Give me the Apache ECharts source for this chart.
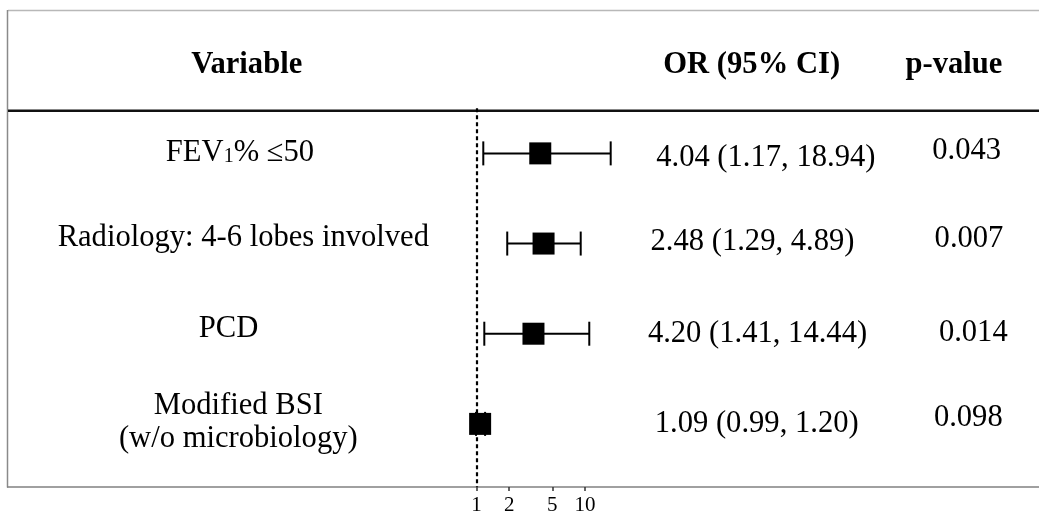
<!DOCTYPE html>
<html><head><meta charset="utf-8">
<script src="https://cdn.jsdelivr.net/npm/echarts@6/dist/echarts.min.js"></script>
<style>html,body{margin:0;padding:0;background:#fff}#c{width:1039px;height:512px}</style>
</head><body><div id="c"></div><script>
// ---- data ----
const variables = ['FEV1% ≤50', 'Radiology: 4-6 lobes involved', 'PCD', 'Modified BSI\n(w/o microbiology)'];
const oddsRatio = [3.87, 4.15, 3.35, 1.08];
const ciLower = [1.155, 1.92, 1.18, 0.99];
const ciUpper = [17.25, 9.13, 10.95, 1.20];
const orText = ['4.04 (1.17, 18.94)', '2.48 (1.29, 4.89)', '4.20 (1.41, 14.44)', '1.09 (0.99, 1.20)'];
const pValues = ['0.043', '0.007', '0.014', '0.098'];
const tickValues = [1, 2, 5, 10];
const headers = ['Variable', 'OR (95% CI)', 'p-value'];

// ---- layout ----
const FONT = '"Liberation Serif", "Times New Roman", serif';
const FS = 30.6;
const headerX = [246.7, 751.7, 954];
const headerY = 64.6;
const labelX = [240, 243.3, 228.5, 238.3];
const labelY = [153.5, 237.5, 329.2, 422.5];
const orX = [765.8, 752.5, 757.5, 756.7];
const orY = [157.5, 241.8, 334.1, 424.1];
const pX = [966.7, 969, 973.3, 968.3];
const pY = [150.8, 239.1, 332.5, 417.5];

const chart = echarts.init(document.getElementById('c'), null, {renderer: 'canvas'});

const graphic = [];
// frame
graphic.push({type: 'line', shape: {x1: 8, y1: 10.5, x2: 1039, y2: 10.5}, style: {stroke: '#b8b8b8', lineWidth: 1.5}});
graphic.push({type: 'line', shape: {x1: 7.5, y1: 10, x2: 7.5, y2: 487.5}, style: {stroke: '#8a8a8a', lineWidth: 1.5}});
graphic.push({type: 'line', shape: {x1: 7, y1: 487, x2: 1039, y2: 487}, style: {stroke: '#808080', lineWidth: 1.5}});
// header rule
graphic.push({type: 'line', shape: {x1: 8, y1: 110.8, x2: 1039, y2: 110.8}, style: {stroke: '#111', lineWidth: 2.5}});
// headers
headers.forEach((h, i) => {
  graphic.push({type: 'text', style: {text: h, x: headerX[i], y: headerY, fill: '#000',
    fontSize: FS, fontFamily: FONT, fontWeight: 'bold', align: 'center', verticalAlign: 'middle'}});
});
// variable labels
variables.forEach((v, i) => {
  if (v.indexOf('FEV1') === 0) {
    graphic.push({type: 'text', style: {
      text: '{n|FEV}{s|1}{n|' + v.slice(4) + '}', x: labelX[i], y: labelY[i], fill: '#000',
      align: 'center', verticalAlign: 'middle',
      rich: {
        n: {fontSize: FS, fontFamily: FONT, fill: '#000', verticalAlign: 'bottom', lineHeight: FS},
        s: {fontSize: 20, fontFamily: FONT, fill: '#000', verticalAlign: 'bottom', lineHeight: 20, padding: [0, 0, 2, 0]}
      }}});
  } else {
    graphic.push({type: 'text', style: {text: v, x: labelX[i], y: labelY[i], fill: '#000',
      fontSize: FS, fontFamily: FONT, align: 'center', verticalAlign: 'middle', lineHeight: 33.3}});
  }
});
orText.forEach((t, i) => {
  graphic.push({type: 'text', style: {text: t, x: orX[i], y: orY[i], fill: '#000',
    fontSize: FS, fontFamily: FONT, align: 'center', verticalAlign: 'middle'}});
});
pValues.forEach((t, i) => {
  graphic.push({type: 'text', style: {text: t, x: pX[i], y: pY[i], fill: '#000',
    fontSize: FS, fontFamily: FONT, align: 'center', verticalAlign: 'middle'}});
});

const option = {
  animation: false,
  backgroundColor: '#fff',
  grid: {left: 368, width: 325.5, top: 108.3, height: 378.7, containLabel: false, outerBoundsMode: 'none'},
  xAxis: {
    type: 'log', logBase: 10, min: 0.1, max: 100,
    axisLine: {show: false, onZero: false},
    splitLine: {show: false},
    minorTick: {show: false},
    axisTick: {show: true, customValues: tickValues, length: 4, lineStyle: {color: '#333', width: 1.5}},
    axisLabel: {customValues: tickValues, fontSize: 21, fontFamily: FONT, color: '#000', margin: 8}
  },
  yAxis: {type: 'value', inverse: true, min: -0.5, max: 3.7, show: false},
  series: [
    {
      type: 'custom',
      name: 'CI',
      z: 3,
      data: ciLower.map((lo, i) => [lo, ciUpper[i], i]),
      encode: {x: [0, 1], y: 2},
      renderItem: function (params, api) {
        const r = api.value(2);
        const p1 = api.coord([api.value(0), r]);
        const p2 = api.coord([api.value(1), r]);
        const h = 12;
        const st = {stroke: '#000', lineWidth: 2};
        return {type: 'group', children: [
          {type: 'line', shape: {x1: p1[0], y1: p1[1], x2: p2[0], y2: p2[1]}, style: st},
          {type: 'line', shape: {x1: p1[0], y1: p1[1] - h, x2: p1[0], y2: p1[1] + h}, style: st},
          {type: 'line', shape: {x1: p2[0], y1: p2[1] - h, x2: p2[0], y2: p2[1] + h}, style: st}
        ]};
      }
    },
    {
      type: 'scatter',
      name: 'OR',
      z: 5,
      symbol: 'rect',
      symbolSize: 22,
      itemStyle: {color: '#000', opacity: 1},
      data: oddsRatio.map((v, i) => [v, i]),
      markLine: {
        silent: true,
        symbol: ['none', 'none'],
        label: {show: false},
        lineStyle: {color: '#000', width: 2.2, type: [4, 3]},
        data: [{xAxis: 1}]
      }
    }
  ],
  graphic: graphic
};
chart.setOption(option);
</script></body></html>
